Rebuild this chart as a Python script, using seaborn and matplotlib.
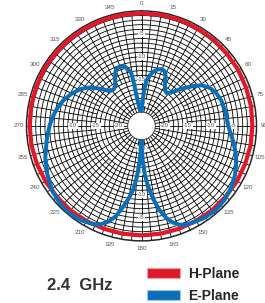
import numpy as np
import matplotlib
matplotlib.use("Agg")
import matplotlib.pyplot as plt
import seaborn as sns
from matplotlib.patches import Patch

sns.set_style("white")
plt.rcParams['font.family'] = ['Liberation Sans', 'DejaVu Sans']

# E-Plane pattern (angle in degrees clockwise from top, level in dB)
e_angle = [0, 2, 4, 6, 9, 12, 16, 20, 23, 26, 29, 33, 37, 40, 44, 48, 52, 56, 61, 66,
           72, 80, 88, 94, 100, 106, 112, 118, 125, 132, 139, 146, 152, 156, 159, 162,
           165, 168, 171, 174, 176, 178, 179.5, 180,
           181, 183, 185, 187.5, 190, 193, 196, 199, 203, 206, 212, 219, 226, 234, 243,
           252, 262, 270, 276, 282, 288, 295, 301, 306, 311, 315, 319, 323, 327, 331,
           334, 337, 341, 345, 349, 350, 351, 353, 356, 360]
e_db = [-22, -20, -17.5, -15.2, -14.0, -13.0, -12.2, -11.9, -12.1, -13.0, -14.5, -15.6,
        -16.0, -15.7, -14.5, -12.8, -11.0, -9.2, -8.0, -7.3,
        -6.8, -6.5, -6.3, -5.7, -4.7, -3.7, -2.8, -2.0, -1.3, -0.8, -0.6, -0.8, -1.2,
        -1.5, -2.0, -2.9, -4.3, -6.3, -9.0, -12.0, -14.3, -17.5, -20.5, -22,
        -20.5, -17.5, -14.0, -11.0, -9.0, -6.8, -4.5, -3.0, -1.7, -1.2, -0.7, -0.3,
        -0.5, -1.0, -2.0, -3.0, -4.2, -5.0, -5.6, -6.3, -7.1, -8.3, -9.5, -10.8,
        -12.6, -14.0, -14.9, -15.0, -14.5, -13.2, -12.0, -11.4, -11.3, -11.8, -13.2,
        -16.0, -19.0, -21.0, -22, -22]

# H-Plane pattern
h_angle = list(range(0, 361, 10))
h_db = [-0.5, -0.5, -0.5, -0.6, -0.6, -0.7, -0.7, -0.8, -0.8, -0.9, -0.9, -1.0,
        -1.0, -1.1, -1.1, -1.2, -1.2, -1.2, -1.2, -1.2, -1.2, -1.1, -1.0, -1.0,
        -0.9, -0.8, -0.7, -0.7, -0.6, -0.6, -0.5, -0.5, -0.5, -0.5, -0.5, -0.5, -0.5]

r_labels = [-5, -10, -15, -20]
r_label_dirs = [0, 90, 180, 270]
angle_ticks = list(range(0, 360, 15))

red = "#e0192a"
blue = "#0a6fb7"

fig = plt.figure(figsize=(2.65, 3.03), dpi=100)
ax = fig.add_axes([0.1, 0.205, 0.868, 0.759], projection='polar')
ax.set_theta_zero_location('N')
ax.set_theta_direction(-1)
ax.set_ylim(-22, 0)
ax.set_rorigin(-25)

# rings every 1 dB
ax.set_yticks(np.arange(-21, 0, 1))
ax.set_yticklabels([])
ax.yaxis.grid(True, color='black', linewidth=0.6)
ax.xaxis.grid(False)

# spokes: every 10 deg full length, extra ones every 5 deg on the outer part
for a in np.arange(0, 360, 10):
    ax.plot([np.deg2rad(a)] * 2, [-22, 0], color='black', lw=0.6, zorder=1)
for a in np.arange(5, 360, 10):
    ax.plot([np.deg2rad(a)] * 2, [-15, 0], color='black', lw=0.6, zorder=1)

ax.spines['polar'].set_linewidth(1.1)
ax.spines['inner'].set_linewidth(0.6)

ax.set_xticks(np.deg2rad(angle_ticks))
ax.set_xticklabels([str(a) for a in angle_ticks], fontsize=4.5, color='#555555')
ax.tick_params(axis='x', pad=-5)

for d in r_label_dirs:
    for v in r_labels:
        ax.text(np.deg2rad(d), v, str(v), fontsize=4.5, color='#555555',
                ha='center', va='center', zorder=3,
                bbox=dict(facecolor='white', edgecolor='none', pad=0.3))

ax.plot(np.deg2rad(h_angle), h_db, color=red, lw=3.0, zorder=4, solid_capstyle='round')
ax.plot(np.deg2rad(e_angle), e_db, color=blue, lw=2.9, zorder=5, solid_joinstyle='round')

fig.text(80 / 265, 1 - 286 / 303, "2.4  GHz", fontsize=12, fontweight='bold',
         color='#333333', ha='center', va='center')

handles = [Patch(facecolor=red, edgecolor='#f4a0a8', linewidth=0.8),
           Patch(facecolor=blue, edgecolor='#9cc6e6', linewidth=0.8)]
fig.legend(handles, ["H-Plane", "E-Plane"], loc='upper left',
           bbox_to_anchor=(147 / 265, 1 - 267 / 303), frameon=False,
           prop=dict(weight='bold', size=10), handlelength=2.4, handleheight=0.75,
           handletextpad=0.55, labelspacing=0.55, borderpad=0, borderaxespad=0)

fig.savefig("out.png", dpi=100)
